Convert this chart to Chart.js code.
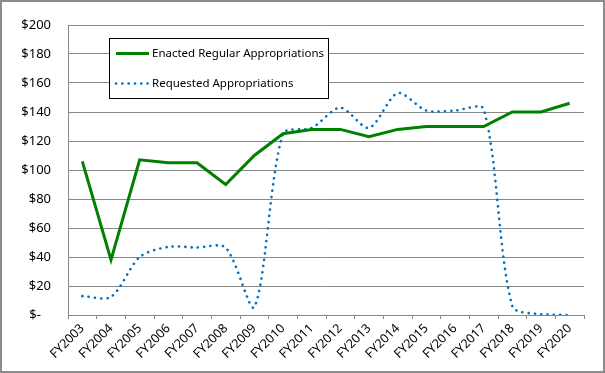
<!DOCTYPE html>
<html>
<head>
<meta charset="utf-8">
<script src="https://cdn.jsdelivr.net/npm/chart.js@4.4.1/dist/chart.umd.min.js"></script>
<style>
  html, body { margin: 0; padding: 0; background: #fff; }
  #wrap { width: 605px; height: 373px; position: relative; }
</style>
</head>
<body>
<div id="wrap"><canvas id="chart" width="605" height="373"></canvas></div>
<script>
// data ($ millions)
const years = ["FY2003", "FY2004", "FY2005", "FY2006", "FY2007", "FY2008", "FY2009", "FY2010", "FY2011",
  "FY2012", "FY2013", "FY2014", "FY2015", "FY2016", "FY2017", "FY2018", "FY2019", "FY2020"];
const enacted = [106, 38, 107, 105, 105, 90, 110, 125, 128, 128, 123, 128, 130, 130, 130, 140, 140, 146];
const requested = [13, 12.5, 40, 47, 46.5, 46.5, 5.5, 125, 129, 143, 129, 153, 141, 141, 142, 6, 0.5, 0];
const yTicks = [0, 20, 40, 60, 80, 100, 120, 140, 160, 180, 200];

const GREEN = "#008000";
const BLUE = "#0070C0";
const GRID = "#888888";
const FONT = "'Noto Sans', sans-serif";

// draws frame + the boxed legend inside the plot
const frameAndLegend = {
  id: "frameAndLegend",
  beforeDraw(chart) {
    const ctx = chart.ctx;
    ctx.save();
    ctx.fillStyle = "#fff";
    ctx.fillRect(0, 0, chart.width, chart.height);
    ctx.restore();
  },
  afterDraw(chart) {
    const ctx = chart.ctx;
    ctx.save();
    ctx.strokeStyle = "#8c8c8c";
    ctx.lineWidth = 2;
    ctx.strokeRect(1, 1, chart.width - 2, chart.height - 2);

    // legend box
    ctx.fillStyle = "#fff";
    ctx.fillRect(109, 38, 220, 60);
    ctx.strokeStyle = "#000";
    ctx.lineWidth = 1;
    ctx.strokeRect(109.5, 38.5, 219, 60);

    const items = chart.data.datasets;
    items.forEach((ds, i) => {
      const y = 53.5 + i * 30;
      ctx.beginPath();
      ctx.strokeStyle = ds.borderColor;
      ctx.lineWidth = ds.borderWidth;
      ctx.lineCap = ds.borderCapStyle || "butt";
      ctx.setLineDash(ds.borderDash || []);
      ctx.moveTo(116, y);
      ctx.lineTo(149, y);
      ctx.stroke();
      ctx.setLineDash([]);
      ctx.fillStyle = "#000";
      ctx.font = "11.5px " + FONT;
      ctx.textBaseline = "middle";
      ctx.fillText(ds.label, 152, y);
    });
    ctx.restore();
  }
};

new Chart(document.getElementById("chart"), {
  type: "line",
  data: {
    labels: years,
    datasets: [
      {
        label: "Enacted Regular Appropriations",
        data: enacted,
        borderColor: GREEN,
        borderWidth: 3,
        pointRadius: 0,
        tension: 0,
        fill: false
      },
      {
        label: "Requested Appropriations",
        data: requested,
        borderColor: BLUE,
        borderWidth: 2.6,
        borderDash: [0.1, 6.2],
        borderCapStyle: "round",
        pointRadius: 0,
        tension: 0.28,
        fill: false
      }
    ]
  },
  options: {
    responsive: false,
    animation: false,
    devicePixelRatio: 1,
    layout: { padding: { top: 25, right: 21, left: 0, bottom: 0 } },
    plugins: { legend: { display: false }, tooltip: { enabled: false } },
    scales: {
      x: {
        offset: true,
        grid: { display: true, drawOnChartArea: false, drawTicks: true, tickLength: 4, color: GRID, offset: true },
        border: { display: true, color: GRID, width: 1 },
        ticks: {
          maxRotation: 45, minRotation: 45, autoSkip: false, padding: 2,
          color: "#000", font: { family: FONT, size: 12.5 }
        },
        afterFit(scale) { scale.height = 58; }
      },
      y: {
        min: 0, max: 200,
        afterBuildTicks(scale) { scale.ticks = yTicks.map(v => ({ value: v })); },
        grid: { color: GRID, lineWidth: 1, drawTicks: false },
        border: { display: true, color: GRID, width: 1 },
        ticks: {
          padding: 17, color: "#000", font: { family: FONT, size: 13 },
          callback: (v) => v === 0 ? "$-   " : "$" + v
        },
        afterFit(scale) { scale.width = 68; }
      }
    }
  },
  plugins: [frameAndLegend]
});
</script>
</body>
</html>
